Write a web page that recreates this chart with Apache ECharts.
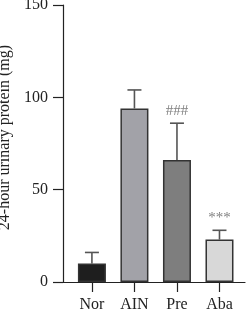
<!DOCTYPE html>
<html>
<head>
<meta charset="utf-8">
<script src="https://cdn.jsdelivr.net/npm/echarts@6/dist/echarts.min.js"></script>
<style>
  html, body { margin: 0; padding: 0; background: #fff; }
  #chart { width: 248px; height: 310px; }
</style>
</head>
<body>
<div id="chart"></div>
<script>
var groups = ['Nor', 'AIN', 'Pre', 'Aba'];
var means = [10, 94, 66, 23];
var errUp = [16, 104, 86, 28];
var marks = ['', '', '###', '***'];
var barColors = ['#1e1e1e', '#a2a2a8', '#7e7e7e', '#d8d8d8'];

var fontFam = '"Liberation Serif", "DejaVu Serif", serif';

var myChart = echarts.init(document.getElementById('chart'));

var barData = means.map(function (v, i) {
    return { value: [i, v], itemStyle: { color: barColors[i] } };
});
var errData = means.map(function (v, i) {
    return [i, v, errUp[i]];
});

option = {
    animation: false,
    grid: { left: 63, right: 3, top: 5, bottom: 28, outerBoundsMode: 'none', containLabel: false },
    xAxis: {
        type: 'value',
        min: -0.68,
        max: 3.6,
        splitLine: { show: false },
        axisLine: { onZero: false, lineStyle: { color: '#222', width: 1.2 } },
        axisTick: {
            customValues: [0, 1, 2, 3],
            length: 10,
            lineStyle: { color: '#222', width: 1.2 }
        },
        axisLabel: {
            customValues: [0, 1, 2, 3],
            formatter: function (v) { return groups[Math.round(v)]; },
            color: '#222',
            fontFamily: fontFam,
            fontSize: 16,
            margin: 15
        }
    },
    yAxis: {
        type: 'value',
        min: 0,
        max: 150,
        interval: 50,
        name: '24-hour urinary protein (mg)',
        nameLocation: 'middle',
        nameGap: 37,
        nameTextStyle: { color: '#222', fontFamily: fontFam, fontSize: 16, padding: [0, 0, 0, 12] },
        splitLine: { show: false },
        axisLine: { show: true, onZero: false, lineStyle: { color: '#222', width: 1.2 } },
        axisTick: { show: true, length: 10, lineStyle: { color: '#222', width: 1.2 } },
        axisLabel: { color: '#222', fontFamily: fontFam, fontSize: 16, margin: 15 }
    },
    series: [
        {
            type: 'bar',
            barWidth: 28,
            data: barData,
            itemStyle: { borderColor: '#333', borderWidth: 1.5 }
        },
        {
            type: 'custom',
            data: errData,
            z: 1,
            renderItem: function (params, api) {
                var i = api.value(0);
                var top = api.coord([i, api.value(2)]);
                var base = api.coord([i, api.value(1)]);
                var half = 7;
                var children = [
                    { type: 'line', shape: { x1: top[0], y1: base[1], x2: top[0], y2: top[1] },
                      style: { stroke: '#555', lineWidth: 1.6 } },
                    { type: 'line', shape: { x1: top[0] - half, y1: top[1], x2: top[0] + half, y2: top[1] },
                      style: { stroke: '#555', lineWidth: 1.6 } }
                ];
                var m = marks[params.dataIndex];
                if (m) {
                    children.push({
                        type: 'text',
                        style: {
                            text: m, x: top[0], y: top[1] - 5,
                            align: 'center', verticalAlign: 'bottom',
                            fill: '#808080', font: '15px ' + fontFam
                        }
                    });
                }
                return { type: 'group', children: children };
            }
        }
    ]
};

myChart.setOption(option);
</script>
</body>
</html>
